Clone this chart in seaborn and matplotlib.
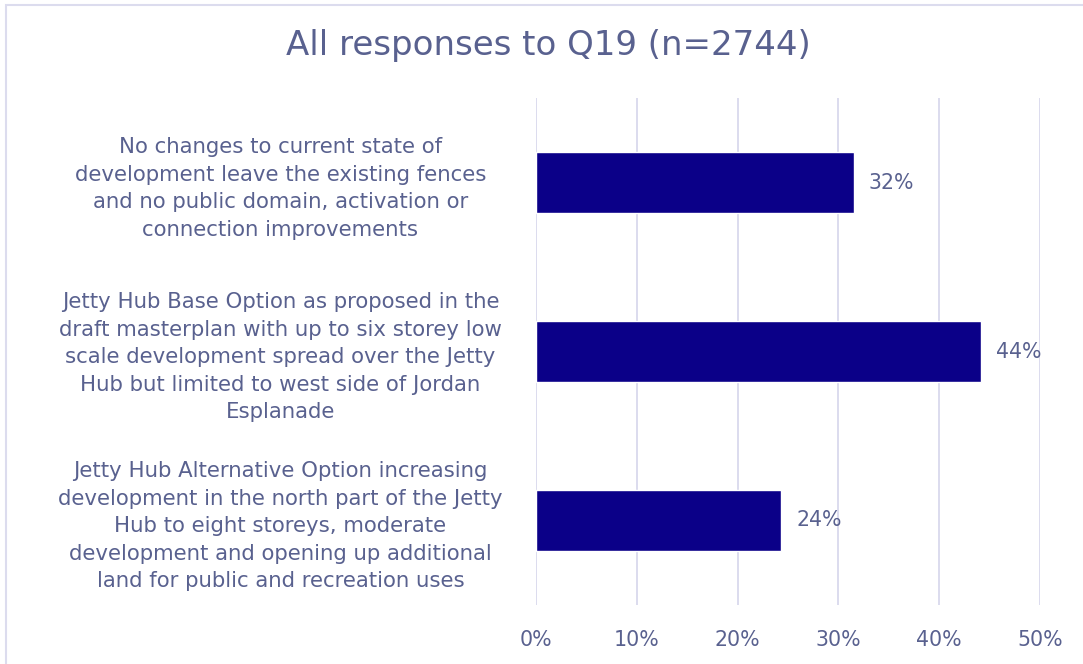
import matplotlib
matplotlib.use("Agg")
import matplotlib.pyplot as plt
import seaborn as sns
import pandas as pd
from matplotlib.patches import Rectangle

# Survey options and share of responses (%)
options = [
    "No changes to current state of\ndevelopment leave the existing fences\nand no public domain, activation or\nconnection improvements",
    "Jetty Hub Base Option as proposed in the\ndraft masterplan with up to six storey low\nscale development spread over the Jetty\nHub but limited to west side of Jordan\nEsplanade",
    "Jetty Hub Alternative Option increasing\ndevelopment in the north part of the Jetty\nHub to eight storeys, moderate\ndevelopment and opening up additional\nland for public and recreation uses",
]
shares = [31.5, 44.1, 24.3]
x_ticks = [0, 10, 20, 30, 40, 50]
title = "All responses to Q19 (n=2744)"

TEXT = "#59618F"
BAR = "#0B0088"
GRID = "#DCDCEE"

sns.set_theme(style="white")
plt.rcParams["font.family"] = ["DejaVu Sans"]

df = pd.DataFrame({"option": options, "share": shares})

fig = plt.figure(figsize=(10.83, 6.64), dpi=100)
ax = fig.add_axes([536 / 1083, 1 - 605 / 664, 504 / 1083, 507 / 664])

sns.barplot(data=df, x="share", y="option", orient="h", color=BAR,
            width=0.36, saturation=1, ax=ax, zorder=3)

ax.set_xlim(0, 50)
ax.set_ylim(2.5, -0.5)
ax.set_xticks(x_ticks)
ax.set_xticklabels([f"{t}%" for t in x_ticks])
ax.grid(axis="x", color=GRID, linewidth=1.4, zorder=0)
ax.grid(axis="y", visible=False)
for s in ax.spines.values():
    s.set_visible(False)
ax.set_xlabel("")
ax.set_ylabel("")

ax.tick_params(axis="x", length=0, pad=18, labelsize=14.8, labelcolor=TEXT)
ax.tick_params(axis="y", length=0, pad=184, labelsize=15.3, labelcolor=TEXT)
for lab in ax.get_yticklabels():
    lab.set_horizontalalignment("center")
    lab.set_multialignment("center")
    lab.set_linespacing(1.47)

for i, v in enumerate(shares):
    ax.text(v + 1.5, i, f"{v:.0f}%", va="center", ha="left",
            fontsize=14.8, color=TEXT, zorder=4)

fig.text(548 / 1083, 1 - 46 / 664, title, ha="center", va="center",
         fontsize=24.5, color=TEXT)

# light frame around the chart area
fig.patches.append(Rectangle((6 / 1083, -0.1), 1.2, 1 - 5 / 664 + 0.1,
                             transform=fig.transFigure, fill=False,
                             edgecolor=GRID, linewidth=1.5))

fig.savefig("out.png", dpi=100, facecolor="white")
